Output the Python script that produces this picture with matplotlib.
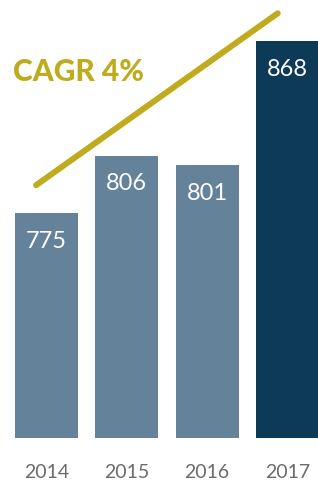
import matplotlib
matplotlib.use("Agg")
import matplotlib.pyplot as plt

# Data
years = ["2014", "2015", "2016", "2017"]
values = [775, 806, 801, 868]
bar_colors = ["#64829a", "#64829a", "#64829a", "#0c3a57"]
cagr_label = "CAGR 4%"

gold = "#bfac1e"

fig = plt.figure(figsize=(3.18, 4.81), dpi=100)
ax = fig.add_axes([0, 42 / 481, 1, 1 - 42 / 481])

x = list(range(len(years)))
ax.bar(x, values, width=0.785, color=bar_colors, zorder=2)

for xi, v in zip(x, values):
    ax.annotate(str(v), (xi, v), xytext=(0, -12), textcoords="offset points",
                ha="center", va="top", color="white", fontsize=17,
                family=["Lato", "DejaVu Sans"])

# CAGR trend line, drawn a bit above first and last bars
ax.plot([x[0] - 0.13, x[-1] - 0.12], [values[0] + 15, values[-1] + 15],
        color=gold, linewidth=4.3, solid_capstyle="round", zorder=3)
ax.text(0.04, 0.835, cagr_label, transform=ax.transAxes, color=gold,
        fontsize=21.5, fontweight="black", ha="left", va="center",
        family=["Lato", "DejaVu Sans"])

ax.set_xlim(-0.579, 3.381)
ax.set_ylim(653.3, 890.7)
ax.set_xticks(x)
ax.set_xticklabels(years, color="#6b6b6b", fontsize=14,
                   family=["Lato", "DejaVu Sans"])
ax.tick_params(axis="x", length=0, pad=18)
ax.set_yticks([])
for s in ax.spines.values():
    s.set_visible(False)

fig.savefig("out.png", dpi=100)
